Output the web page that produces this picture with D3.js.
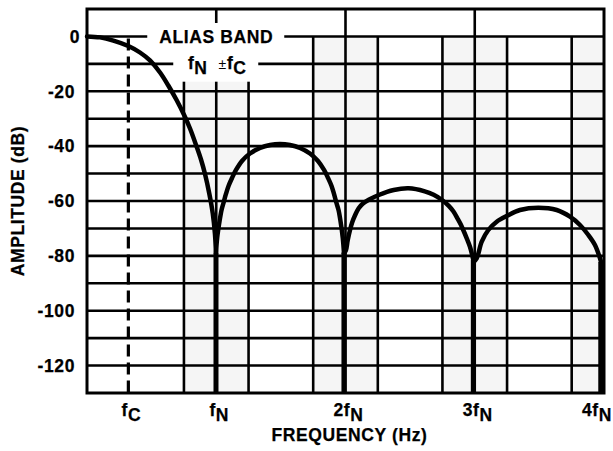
<!DOCTYPE html>
<html lang="en">
<head>
    <meta charset="UTF-8">
    <title>Alias band response</title>
    <style>
        body { margin: 0; padding: 0; background: white; }
        text { font-family: "Liberation Sans", Arial, Helvetica, sans-serif; font-weight: bold; font-size: 17.5px; letter-spacing: 0.6px; fill: black; stroke: black; stroke-width: 0.25px; }
    </style>
</head>
<body>
    <svg id="chart" width="613" height="451"></svg>
    <script src="https://d3js.org/d3.v7.min.js"></script>
    <script>
        // frequency in units of fN, amplitude in dB, one array per lobe
        const mainLobe = [
            [0, 0], [0.101, -0.35], [0.204, -1.52], [0.32, -3.49], [0.41, -5.86], [0.487, -8.77],
            [0.565, -13.15], [0.629, -17.89], [0.694, -23.29], [0.753, -28.83], [0.797, -33.57],
            [0.847, -40.02], [0.882, -44.87], [0.913, -50.15], [0.946, -57.26], [0.973, -64.55],
            [0.99, -72.03], [0.998, -78.95]
        ];
        const lobe1 = [
            [0.998, -78.95], [1.007, -73.48], [1.027, -66.92], [1.041, -63.27], [1.056, -60.72],
            [1.075, -57.44], [1.095, -54.52], [1.122, -51.61], [1.153, -48.69], [1.199, -45.41],
            [1.261, -42.68], [1.339, -40.67], [1.416, -39.58], [1.493, -39.22], [1.571, -39.58],
            [1.648, -40.67], [1.725, -42.68], [1.787, -45.41], [1.834, -48.69], [1.865, -51.61],
            [1.892, -54.52], [1.911, -57.44], [1.93, -60.72], [1.946, -63.27], [1.96, -66.92],
            [1.979, -73.48], [1.988, -78.95]
        ];
        const lobe2 = [
            [1.988, -78.95], [2.003, -77.97], [2.017, -74.32], [2.035, -70.57], [2.052, -67.76],
            [2.074, -65.21], [2.102, -62.66], [2.133, -61.02], [2.18, -59.56], [2.257, -57.81],
            [2.373, -55.99], [2.489, -55.37], [2.613, -56.46], [2.682, -57.74], [2.744, -59.56],
            [2.799, -61.75], [2.834, -63.75], [2.868, -66.49], [2.891, -68.49], [2.911, -70.57],
            [2.938, -73.6], [2.963, -76.66], [2.989, -81.51]
        ];
        const lobe3 = [
            [2.989, -82.24], [3.015, -80.89], [3.054, -74.83], [3.105, -70.57], [3.17, -67.54],
            [3.252, -65.36], [3.35, -63.28], [3.492, -62.44], [3.634, -63.28], [3.737, -65.72],
            [3.814, -68.75], [3.879, -72.4], [3.93, -76.04], [3.969, -80.89], [3.977, -82.24]
        ];
        // nulls drawn as spikes down to the floor
        const nulls = [[0.998, -78.95], [1.988, -78.95], [2.989, -81.5], [3.975, -82.24]];

        const yTicks = [0, -20, -40, -60, -80, -100, -120];
        const yGrid = [0, -10, -20, -30, -40, -50, -60, -70, -80, -90, -100, -110, -120];
        const aliasBands = [[0.75, 1.25], [1.75, 2.25], [2.75, 3.25], [3.75, 4]];
        const fullLines = [1, 2, 3];
        const fC = 0.32;
        const xLabels = [
            { v: 0.32, main: "f", sub: "C" },
            { v: 1, main: "f", sub: "N" },
            { v: 2, main: "2f", sub: "N" },
            { v: 3, main: "3f", sub: "N" },
            { v: 4, main: "4f", sub: "N" }
        ];

        const W = 613, H = 451;
        const plotLeft = 87, plotRight = 604, plotTop = 9, plotBottom = 393;

        const x = d3.scaleLinear().domain([0, 4]).range([plotLeft, plotRight]);
        const y = d3.scaleLinear().domain([-130, 10]).range([plotBottom, plotTop]);

        const svg = d3.select("#chart");

        // shaded alias bands
        svg.append("g").selectAll("rect")
            .data(aliasBands)
            .enter()
            .append("rect")
            .attr("x", d => x(d[0]))
            .attr("y", y(0))
            .attr("width", d => x(d[1]) - x(d[0]))
            .attr("height", plotBottom - y(0))
            .attr("fill", "#f5f5f5");

        const grid = svg.append("g").attr("stroke", "black").attr("stroke-width", 2.6);

        grid.selectAll("line.h")
            .data(yGrid)
            .enter()
            .append("line")
            .attr("x1", plotLeft).attr("x2", plotRight)
            .attr("y1", d => y(d)).attr("y2", d => y(d));

        // band edges start at 0 dB
        const edges = aliasBands.flat().filter(v => v < 4);
        grid.selectAll("line.e")
            .data(edges)
            .enter()
            .append("line")
            .attr("x1", d => x(d)).attr("x2", d => x(d))
            .attr("y1", y(0)).attr("y2", plotBottom);

        grid.selectAll("line.f")
            .data(fullLines)
            .enter()
            .append("line")
            .attr("x1", d => x(d)).attr("x2", d => x(d))
            .attr("y1", plotTop).attr("y2", plotBottom);

        // cutoff frequency, dashed
        svg.append("line")
            .attr("x1", x(fC)).attr("x2", x(fC))
            .attr("y1", y(0) + 2).attr("y2", plotBottom)
            .attr("stroke", "black").attr("stroke-width", 3.2)
            .attr("stroke-dasharray", "12,6");

        // label backgrounds knock out the grid
        svg.append("rect")
            .attr("x", x(1) - 69).attr("y", 23)
            .attr("width", 137).attr("height", 27)
            .attr("fill", "white");
        svg.append("rect")
            .attr("x", x(1) - 43).attr("y", 50)
            .attr("width", 85).attr("height", y(-16.5) - 50)
            .attr("fill", "white");

        svg.append("text")
            .attr("x", x(1))
            .attr("y", 42.5)
            .attr("text-anchor", "middle")
            .text("ALIAS BAND");

        const band = svg.append("text")
            .attr("x", x(1) + 1)
            .attr("y", 68.5)
            .attr("text-anchor", "middle");
        band.append("tspan").text("f");
        band.append("tspan").attr("dy", 5).text("N");
        band.append("tspan").attr("dy", -5).attr("dx", 11)
            .style("font-weight", "normal").style("font-size", "14px").style("stroke-width", 0).text("\u00b1");
        band.append("tspan").text("f");
        band.append("tspan").attr("dy", 5).text("C");

        // frame
        svg.append("rect")
            .attr("x", plotLeft).attr("y", plotTop)
            .attr("width", plotRight - plotLeft).attr("height", plotBottom - plotTop)
            .attr("fill", "none")
            .attr("stroke", "black").attr("stroke-width", 3);

        // response curve
        const line = d3.line()
            .x(d => x(d[0]))
            .y(d => y(d[1]))
            .curve(d3.curveCatmullRom.alpha(0.5));

        svg.append("g").selectAll("path")
            .data([mainLobe, lobe1, lobe2, lobe3])
            .enter()
            .append("path")
            .attr("d", line)
            .attr("fill", "none")
            .attr("stroke", "black")
            .attr("stroke-width", 4.5)
            .attr("stroke-linecap", "round");

        svg.append("g").selectAll("line")
            .data(nulls)
            .enter()
            .append("line")
            .attr("x1", d => x(d[0])).attr("x2", d => x(d[0]))
            .attr("y1", d => y(d[1])).attr("y2", y(-130) - 1)
            .attr("stroke", "black")
            .attr("stroke-width", 5);

        // y axis labels
        const yAxis = svg.append("g")
            .attr("transform", "translate(" + (plotLeft - 12) + ",0)")
            .call(d3.axisLeft(y).tickValues(yTicks).tickSize(0).tickPadding(0).tickFormat(d => String(d)));
        yAxis.select(".domain").remove();
        yAxis.attr("font-family", null).attr("font-size", null);
        yAxis.selectAll("text")
            .attr("dy", "0.33em")
            .attr("x", d => d === 0 ? 5 : 0);

        // x axis labels with subscripts
        const xl = svg.append("g").selectAll("text")
            .data(xLabels)
            .enter()
            .append("text")
            .attr("y", 416)
            .attr("text-anchor", "middle");
        xl.append("tspan").text(d => d.main);
        xl.append("tspan").attr("dy", 5).text(d => d.sub);
        xl.attr("x", function(d) {
            const w = this.getComputedTextLength();
            return Math.min(x(d.v) + 3, W - w / 2 - 1);
        });

        svg.append("text")
            .attr("x", x(2) + 4)
            .attr("y", 441)
            .attr("text-anchor", "middle")
            .text("FREQUENCY (Hz)");

        svg.append("text")
            .attr("transform", "translate(24," + ((plotTop + plotBottom) / 2) + ") rotate(-90)")
            .attr("text-anchor", "middle")
            .text("AMPLITUDE (dB)");
    </script>
</body>
</html>
